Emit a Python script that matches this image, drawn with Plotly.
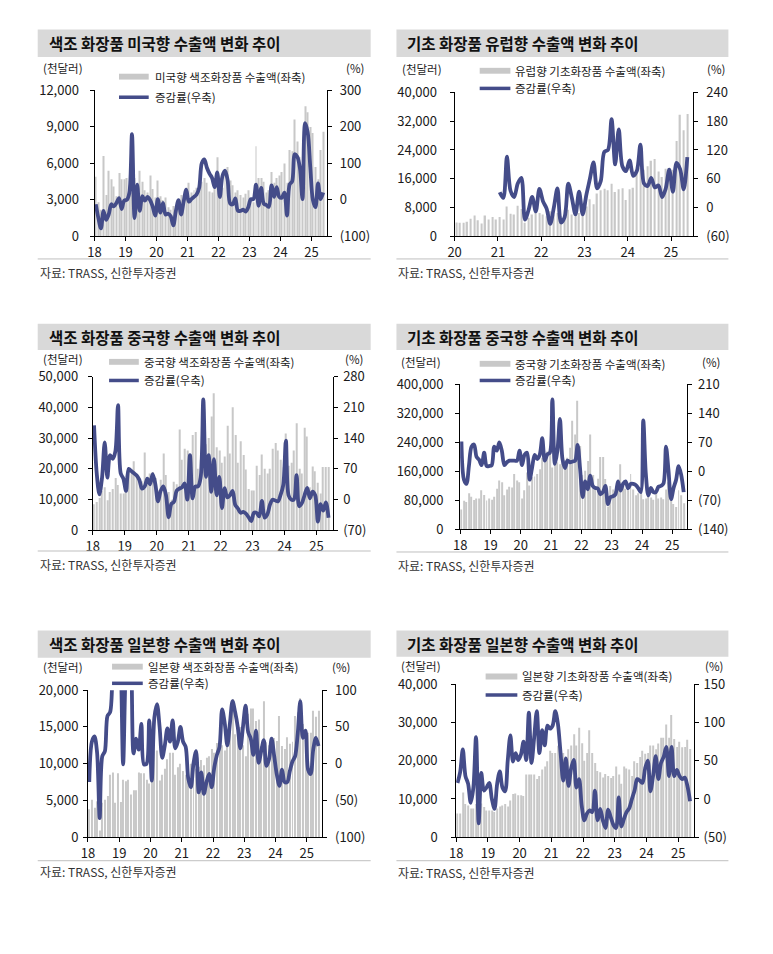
import plotly.graph_objects as go

# ---------------- categories ----------------
MONTHS_FROM_2018 = [f"{y}-{m:02d}" for y in range(2018, 2026) for m in range(1, 13)][:90]   # axis slots Jan-18 .. Jun-25
MONTHS_FROM_2020 = [f"{y}-{m:02d}" for y in range(2020, 2026) for m in range(1, 13)][:66]   # axis slots Jan-20 .. Jun-25
YEAR_LABELS_18 = ["18", "19", "20", "21", "22", "23", "24", "25"]
YEAR_LABELS_20 = ["20", "21", "22", "23", "24", "25"]

# ---------------- data (천달러 / %) ----------------
us_color_exp = [4900, 2800, 2200, 6600, 3400, 5400, 4700, 4100, 3300, 5200, 4700, 4700,
                4800, 4200, 3600, 4800, 4200, 5400, 4500, 3800, 3600, 5000, 3900, 3200,
                4600, 3300, 3000, 3200, 2400, 2200, 2500, 2300, 3000, 3400, 3000, 4000,
                4400, 3600, 3800, 4000, 4200, 4500, 4800, 4400, 3700, 3600, 4200, 6500,
                4800, 4000, 5000, 5700, 4600, 4200, 3600, 3800, 3400, 3200, 3500, 3800,
                3000, 2800, 7400, 4800, 4800, 4500, 3600, 3800, 5300, 4400, 4800, 5000,
                5300, 6000, 4400, 7100, 7000, 9600, 7800, 6500, 5200, 10700, 10200, 9000,
                8500, 5700, 4700, 7100, 8600]
us_color_yoy = [-12, -50, -78, -30, -55, -40, -12, -18, -8, 5, -25, -2,
                0, 20, 180, -50, 42, -30, 10, -2, 8, 0, -18, -43,
                2, -35, -8, -40, -38, -45, -70, -30, -1, -40, -5, 28,
                -5, 2, 8, 15, 33, 100, 111, 88, 72, 60, 35, 75,
                8, 65, 80, 55, -10, -12, 4, -30, -30, -27, -32, -20,
                2, 2, 42, -16, 33, -10, -14, -19, 40, 8, 35, 8,
                6, 20, -43, 42, 51, 125, 118, 87, 2, 210, 185, 90,
                0, -20, 45, 2, 20]

eu_basic_exp = [3850, 3800, 3800, 4100, 4900, 5800, 4500, 3600, 5800, 4700, 5400, 4700,
                5400, 4700, 8300, 6300, 6100, 8500, 7600, 3800, 5200, 6100, 6500, 6500,
                6100, 5600, 7000, 6100, 6500, 5600, 7400, 7400, 6100, 7000, 6500, 6700,
                8300, 10300, 8900, 11900, 12800, 13200, 12800, 14600, 12300, 13100, 13400, 10100,
                13100, 13500, 17500, 19000, 18500, 19500, 21000, 21500, 18000, 16500, 18800, 19000,
                18500, 26500, 33800, 29500, 34000]
eu_basic_yoy = [None] * 12 + [
                32, 20, 106, 35, 22, 50, 62, -25, -5, 22, -8, 39,
                13, -2, -34, 0, 40, -31, -20, 50, 20, -14, 33, -14,
                26, 60, 94, 40, 55, 116, 120, 184, 90, 163, 86, 76,
                98, 66, 76, 131, 50, 45, 62, 42, 46, 22, 39, 79,
                33, 93, 80, 38, 105]

cn_color_exp = [8500, 9200, 10500, 12800, 14000, 9800, 12500, 13500, 17000, 14800, 12000, 12000,
                12500, 19500, 19000, 22500, 17500, 15500, 16000, 25300, 16500, 18500, 19000, 17000,
                13000, 16500, 25000, 18000, 12500, 10000, 15800, 15000, 32800, 23000, 26500, 26000,
                15000, 31000, 32000, 20000, 23000, 27000, 28000, 30000, 37000, 44600, 27000, 26000,
                22000, 24000, 34000, 25000, 40000, 31000, 22000, 29000, 24500, 19800, 13500, 13000,
                13000, 21000, 18000, 24700, 20000, 18500, 20000, 26500, 28400, 26000, 23000, 20500,
                31500, 21000, 22000, 26000, 34800, 20000, 18500, 33400, 30500, 14000, 20800, 19200,
                15500, 12000, 20600, 20600, 20600]
cn_color_yoy = [169, 60, 12, 50, 130, 50, 101, 93, 110, 215, 60, 48,
                20, 70, 65, 60, 55, 45, 25, 30, 48, 35, 58, 35,
                -4, 20, 30, 10, -40, -10, -5, 20, 25, 28, 37, 0,
                101, 3, 30, 30, 50, 228, 52, 101, 18, 92, 10, 52,
                -19, 26, 5, 10, 20, -12, -20, -30, -28, -32, -40, -49,
                -30, -30, -38, -3, -41, -34, -12, 0, -2, -4, 11, 33,
                134, 10, 0, 0, 56, -15, -8, 10, 27, 3, 18, 10,
                -50, -10, -25, -6, -41]

cn_basic_exp = [55000, 79000, 76000, 100000, 90000, 81000, 85000, 85000, 108000, 95000, 80000, 85000,
                82000, 90000, 112000, 135000, 130000, 94000, 110000, 118000, 116000, 153000, 135000, 130000,
                85000, 108000, 157000, 121000, 144000, 146000, 153000, 166000, 198000, 205000, 215000, 230000,
                171000, 180000, 185000, 180000, 190000, 190000, 198000, 225000, 300000, 262000, 355000, 230000,
                150000, 162000, 189000, 262000, 150000, 120000, 140000, 200000, 200000, 139000, 63000, 120000,
                110000, 105000, 120000, 180000, 120000, 112000, 108000, 153000, 110000, 94000, 100000, 105000,
                83000, 85000, 95000, 88000, 82000, 100000, 85000, 88000, 83000, 110000, 130000, 95000,
                70000, 62000, 108000, 94000, 72000]
cn_basic_yoy = [72, -20, -30, 15, 60, 65, 35, 28, 15, 45, 13, 13,
                15, 60, 50, 70, 50, 15, 22, 26, 26, 26, 26, 50,
                15, 40, 45, -20, 10, 40, 30, 40, 80, 26, 41, 45,
                174, 18, 50, 127, 30, 8, 26, 22, 24, 26, 64, 5,
                -62, -24, -43, -10, -35, -40, -41, -55, -50, -35, -79, -62,
                -60, -55, -24, -46, -30, -24, -41, -30, -30, -33, -40, -50,
                123, -5, -58, -40, -50, -50, -37, -35, -29, 60, 1, -67,
                -40, -20, 13, -8, -50]

jp_color_exp = [3800, 5100, 4000, 4900, 900, 4700, 5100, 5600, 8500, 8800, 4700, 8700,
                4800, 7800, 7600, 7800, 5800, 6400, 6400, 8800, 8700, 8700, 7800, 7300,
                8500, 14200, 11800, 7700, 8500, 9300, 10600, 11500, 11500, 8500, 9500, 10000,
                9000, 8500, 9500, 10000, 9000, 9300, 9600, 10500, 9800, 10800, 11000, 12000,
                11500, 12800, 15000, 12500, 11800, 13500, 15400, 18800, 14000, 13500, 15000, 12500,
                11000, 16800, 17500, 17500, 15800, 16000, 12400, 18500, 12900, 12500, 12000, 13500,
                13100, 16500, 12400, 12000, 13600, 12700, 13000, 16500, 17000, 18900, 15400, 14500,
                14200, 14200, 17200, 16400, 17200]
jp_color_yoy = [-25, 30, 37, 15, -74, 10, 17, 65, 70, 130, 180, 200,
                150, -1, 130, 180, 150, 14, 34, 19, 54, -1, 0, 59,
                -23, 63, 81, 50, 8, 25, 48, 30, 59, 21, 30, 50,
                30, 23, -20, -32, 0, 17, -39, -12, -41, -25, -14, -32,
                -5, 12, 23, 74, 55, 25, 55, 85, 70, 50, 21, 50,
                79, 43, 34, 12, 45, 1, 17, 32, -3, 6, 34, 10,
                -15, -30, -8, -25, -25, -10, 3, 10, 40, 85, 35, 45,
                -8, -14, 20, 35, 24]

jp_basic_exp = [6200, 6200, 11700, 8700, 8300, 7500, 7500, 8700, 5500, 8800, 7900, 7000,
                7000, 7000, 6600, 7500, 8000, 8300, 8700, 8000, 9600, 11300, 11400, 11000,
                11000, 10800, 16400, 16400, 16400, 16400, 15200, 16000, 17700, 18500, 19900, 22600,
                22000, 22000, 23900, 22900, 22000, 21000, 23000, 24000, 26900, 24000, 28600, 24600,
                20000, 22000, 28000, 22000, 19400, 17300, 17000, 15600, 16500, 16000, 15500, 16000,
                18500, 16400, 14000, 18500, 18000, 17700, 16000, 19900, 19400, 21000, 22600, 21800,
                22000, 24000, 24000, 23000, 24500, 26000, 26000, 29500, 26000, 32000, 25700, 23600,
                25000, 23500, 23600, 25500, 23100]
jp_basic_yoy = [21, 35, 65, 30, 20, -5, 15, 81, -32, 34, 11, 15,
                21, 0, -13, 20, 36, 15, 10, 50, 83, 49, 60, 51,
                58, 75, 51, 113, 47, 80, 115, 60, 90, 70, 96, 92,
                96, 115, 98, 60, 24, 53, 17, 40, 51, 15, 26, -9,
                -28, -19, -15, -17, 11, -28, -13, -28, -38, -14, -24, -34,
                -38, 2, -36, -26, -17, -12, 0, 11, 26, 24, 21, 40,
                50, 10, 30, 56, 26, 47, 55, 68, 30, 68, 30, 38,
                30, 26, 28, 17, -3]

# ---------------- styling ----------------
W, H = 773, 954
BAR_COLOR = "#C8C8C8"
LINE_COLOR = "#444C89"
HEAD_BG = "#D9D9D9"
TXT = "#1A1A1A"
FONT = "Noto Sans CJK KR, Noto Sans, sans-serif"


def fx(px):
    return px / W


def fy(py):
    return 1 - py / H


panels = [
    dict(title="색조 화장품 미국향 수출액 변화 추이", bar_name="미국향 색조화장품 수출액(좌축)",
         bars=us_color_exp, line=us_color_yoy, slots=MONTHS_FROM_2018, years=YEAR_LABELS_18,
         plot=(88.3, 323, 82, 231), left=(0, 12000, 3000), right=(-100, 300, 100),
         box=(31, 367, 20, 48), legend=(113, 143, 68, 89, 147), units=(57, 351, 59),
         src=(31, 367, 254, 268), lstand=8, rstand=5),
    dict(title="기초 화장품 유럽향 수출액 변화 추이", bar_name="유럽향 기초화장품 수출액(좌축)",
         bars=eu_basic_exp, line=eu_basic_yoy, slots=MONTHS_FROM_2020, years=YEAR_LABELS_20,
         plot=(451.7, 692, 84, 231), left=(0, 40000, 8000), right=(-60, 240, 60),
         box=(393, 728, 20, 48), legend=(477, 508, 62, 80, 511), units=(419, 715, 60),
         src=(393, 728, 254, 268), lstand=10, rstand=6),
    dict(title="색조 화장품 중국향 수출액 변화 추이", bar_name="중국향 색조화장품 수출액(좌축)",
         bars=cn_color_exp, line=cn_color_yoy, slots=MONTHS_FROM_2018, years=YEAR_LABELS_18,
         plot=(86.5, 328.5, 374, 531), left=(0, 50000, 10000), right=(-70, 280, 70),
         box=(31, 367, 320, 347), legend=(103, 133, 359, 378, 136), units=(57, 350, 356),
         src=(31, 367, 552, 566), lstand=7, rstand=3),
    dict(title="기초 화장품 중국향 수출액 변화 추이", bar_name="중국향 기초화장품 수출액(좌축)",
         bars=cn_basic_exp, line=cn_basic_yoy, slots=MONTHS_FROM_2018, years=YEAR_LABELS_18,
         plot=(457.3, 686.7, 382, 530), left=(0, 400000, 80000), right=(-140, 210, 70),
         box=(393, 728, 320, 347), legend=(477, 508, 361, 378, 511), units=(418, 710, 359),
         src=(393, 728, 553, 567), lstand=9, rstand=3),
    dict(title="색조 화장품 일본향 수출액 변화 추이", bar_name="일본향 색조화장품 수출액(좌축)",
         bars=jp_color_exp, line=jp_color_yoy, slots=MONTHS_FROM_2018, years=YEAR_LABELS_18,
         plot=(81.7, 318.3, 694, 844), left=(0, 20000, 5000), right=(-100, 100, 50),
         box=(31, 367, 633, 661), legend=(106, 137, 670, 687, 140), units=(57, 337, 670),
         src=(31, 367, 868, 879), lstand=2, rstand=5),
    dict(title="기초 화장품 일본향 수출액 변화 추이", bar_name="일본향 기초화장품 수출액(좌축)",
         bars=jp_basic_exp, line=jp_basic_yoy, slots=MONTHS_FROM_2018, years=YEAR_LABELS_18,
         plot=(453.3, 693.3, 688, 844), left=(0, 40000, 10000), right=(-50, 150, 50),
         box=(393, 728, 633, 660), legend=(483, 515, 680, 699, 518), units=(418, 713, 669),
         src=(393, 728, 868, 880), lstand=11, rstand=2),
]

fig = go.Figure()
layout = {}
shapes = []
annotations = []

for k, p in enumerate(panels, start=1):
    xid = "x" if k == 1 else f"x{k}"
    yl_n, yr_n = 2 * k - 1, 2 * k
    ylid = "y" if yl_n == 1 else f"y{yl_n}"
    yrid = f"y{yr_n}"
    xkey = "xaxis" if k == 1 else f"xaxis{k}"
    ylkey = "yaxis" if yl_n == 1 else f"yaxis{yl_n}"
    yrkey = f"yaxis{yr_n}"

    xs = list(range(len(p["bars"])))
    fig.add_trace(go.Bar(x=xs, y=p["bars"], xaxis=xid, yaxis=ylid, width=0.38,
                         marker=dict(color=BAR_COLOR, line=dict(width=0)),
                         name=p["bar_name"], hoverinfo="skip"))
    fig.add_trace(go.Scatter(x=list(range(len(p["line"]))), y=p["line"], xaxis=xid, yaxis=yrid,
                             mode="lines", connectgaps=False, name="증감률(우축)",
                             line=dict(color=LINE_COLOR, width=3.8, shape="spline", smoothing=0.9),
                             hoverinfo="skip"))

    x0, x1, y0, y1 = p["plot"]
    nslots = len(p["slots"])
    tickpos = [i - 0.5 for i in range(0, 12 * len(p["years"]), 12)]
    layout[xkey] = dict(domain=[fx(x0), fx(x1)], anchor=ylid, range=[-0.5, nslots - 0.5],
                        showline=True, linecolor="#000", linewidth=1, showgrid=False, zeroline=False,
                        tickmode="array", tickvals=tickpos, ticktext=p["years"],
                        ticks="outside", ticklen=4, tickcolor="#000",
                        tickfont=dict(family=FONT, size=13, color=TXT), fixedrange=True)
    lo, hi, st = p["left"]
    lvals = list(range(lo, hi + 1, st))
    layout[ylkey] = dict(domain=[fy(y1), fy(y0)], anchor=xid, range=[lo, hi],
                         showline=True, linecolor="#000", linewidth=1, showgrid=False, zeroline=False,
                         tickmode="array", tickvals=lvals, ticktext=[f"{v:,}" for v in lvals],
                         ticks="outside", ticklen=4, tickcolor="#000", ticklabelstandoff=p["lstand"],
                         tickfont=dict(family=FONT, size=13, color=TXT), fixedrange=True)
    rlo, rhi, rst = p["right"]
    rvals = list(range(rlo, rhi + 1, rst))
    layout[yrkey] = dict(overlaying=ylid, side="right", anchor=xid, range=[rlo, rhi],
                         showline=True, linecolor="#000", linewidth=1, showgrid=False, zeroline=False,
                         tickmode="array", tickvals=rvals,
                         ticktext=[f"({-v})" if v < 0 else f"{v}" for v in rvals],
                         ticks="outside", ticklen=4, tickcolor="#000", ticklabelstandoff=p["rstand"],
                         tickfont=dict(family=FONT, size=13, color=TXT), fixedrange=True)

    # header box + title
    bx0, bx1, by0, by1 = p["box"]
    shapes.append(dict(type="rect", xref="paper", yref="paper", x0=fx(bx0), x1=fx(bx1),
                       y0=fy(by1), y1=fy(by0), fillcolor=HEAD_BG, line=dict(width=0), layer="below"))
    annotations.append(dict(text=f"<b>{p['title']}</b>", xref="paper", yref="paper",
                            x=fx(bx0 + 9), y=fy((by0 + by1) / 2), xanchor="left", yanchor="middle",
                            showarrow=False, font=dict(family=FONT, size=15.5, color="#111")))

    # legend
    lx0, lx1, ly_bar, ly_line, ltx = p["legend"]
    shapes.append(dict(type="rect", xref="paper", yref="paper", x0=fx(lx0), x1=fx(lx1),
                       y0=fy(ly_bar + 3), y1=fy(ly_bar - 3), fillcolor=BAR_COLOR, line=dict(width=0)))
    shapes.append(dict(type="line", xref="paper", yref="paper", x0=fx(lx0), x1=fx(lx1),
                       y0=fy(ly_line), y1=fy(ly_line), line=dict(color=LINE_COLOR, width=3.5)))
    annotations.append(dict(text=p["bar_name"], xref="paper", yref="paper", x=fx(ltx), y=fy(ly_bar),
                            xanchor="left", yanchor="middle", showarrow=False,
                            font=dict(family=FONT, size=11.5, color=TXT)))
    annotations.append(dict(text="증감률(우축)", xref="paper", yref="paper", x=fx(ltx), y=fy(ly_line),
                            xanchor="left", yanchor="middle", showarrow=False,
                            font=dict(family=FONT, size=11.5, color=TXT)))

    # unit labels
    ucl, ucr, uy = p["units"]
    annotations.append(dict(text="(천달러)", xref="paper", yref="paper", x=fx(ucl), y=fy(uy),
                            xanchor="center", yanchor="middle", showarrow=False,
                            font=dict(family=FONT, size=11.5, color=TXT)))
    annotations.append(dict(text="(%)", xref="paper", yref="paper", x=fx(ucr), y=fy(uy),
                            xanchor="center", yanchor="middle", showarrow=False,
                            font=dict(family=FONT, size=11.5, color=TXT)))

    # source line + text
    sx0, sx1, sly, sty = p["src"]
    shapes.append(dict(type="line", xref="paper", yref="paper", x0=fx(sx0), x1=fx(sx1),
                       y0=fy(sly), y1=fy(sly), line=dict(color="#BFBFBF", width=1)))
    annotations.append(dict(text="자료: TRASS, 신한투자증권", xref="paper", yref="paper",
                            x=fx(sx0), y=fy(sty), xanchor="left", yanchor="middle", showarrow=False,
                            font=dict(family=FONT, size=12, color="#333")))

fig.update_layout(width=W, height=H, margin=dict(l=0, r=0, t=0, b=0),
                  paper_bgcolor="white", plot_bgcolor="rgba(0,0,0,0)", showlegend=False,
                  barmode="overlay", shapes=shapes, annotations=annotations,
                  font=dict(family=FONT, color=TXT), **layout)

fig.write_html("out.html", include_plotlyjs=True, config={"displayModeBar": False},
               post_script="document.body.style.margin='0';")
